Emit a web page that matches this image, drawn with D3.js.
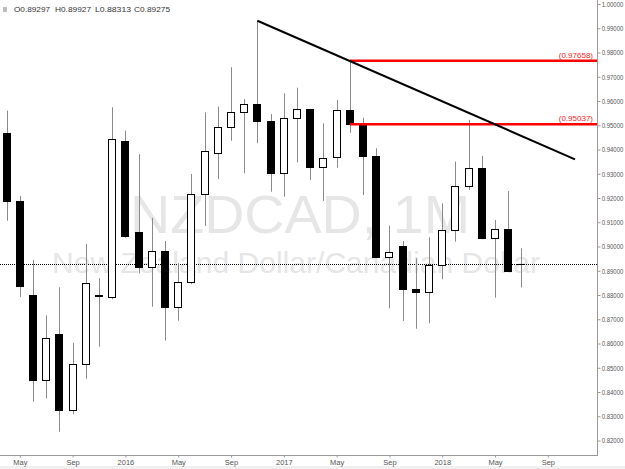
<!DOCTYPE html>
<html>
<head>
<meta charset="utf-8">
<script src="https://cdn.jsdelivr.net/npm/d3@7"></script>
<style>
html,body{margin:0;padding:0;background:#fff;}
svg{display:block;font-family:"Liberation Sans",Arial,sans-serif;}
</style>
</head>
<body>
<svg id="c" width="625" height="469"></svg>
<script>
// ---- data ----
const months = ["Apr 2015","May 2015","Jun 2015","Jul 2015","Aug 2015","Sep 2015","Oct 2015","Nov 2015","Dec 2015",
  "Jan 2016","Feb 2016","Mar 2016","Apr 2016","May 2016","Jun 2016","Jul 2016","Aug 2016","Sep 2016","Oct 2016","Nov 2016","Dec 2016",
  "Jan 2017","Feb 2017","Mar 2017","Apr 2017","May 2017","Jun 2017","Jul 2017","Aug 2017","Sep 2017","Oct 2017","Nov 2017","Dec 2017",
  "Jan 2018","Feb 2018","Mar 2018","Apr 2018","May 2018","Jun 2018","Jul 2018"];
const openV  = [0.9469,0.9189,0.8800,0.8449,0.8639,0.8326,0.8514,0.8799,0.8793,0.9435,0.9059,0.8917,0.8980,0.8751,0.8852,0.9215,0.9384,0.9494,0.9556,0.9588,0.9518,0.9302,0.9529,0.9566,0.9329,0.9370,0.9563,0.9504,0.9374,0.8958,0.9003,0.8823,0.8811,0.8924,0.9068,0.9249,0.9324,0.9034,0.9071,0.89297];
const highV  = [0.9560,0.9208,0.8944,0.8716,0.8832,0.8603,0.9010,0.8869,0.9574,0.9478,0.9381,0.9118,0.9023,0.8931,0.9299,0.9553,0.9577,0.9739,0.9608,0.9931,0.9546,0.9632,0.9655,0.9568,0.9508,0.9604,0.97658,0.9531,0.9405,0.9086,0.9023,0.8951,0.9038,0.9178,0.9350,0.9522,0.9374,0.9109,0.9229,0.89927];
const lowV   = [0.9106,0.8791,0.8360,0.8374,0.8236,0.8308,0.8455,0.8587,0.8782,0.9036,0.8889,0.8752,0.8612,0.8694,0.8845,0.9085,0.9278,0.9436,0.9302,0.9426,0.9226,0.9205,0.9347,0.9274,0.9188,0.9325,0.9469,0.9212,0.8951,0.8745,0.8693,0.8661,0.8683,0.8865,0.9020,0.9233,0.9030,0.8789,0.8898,0.88313];
const closeV = [0.9189,0.8837,0.8449,0.8621,0.8326,0.8514,0.8848,0.8795,0.9442,0.9045,0.8917,0.8980,0.8749,0.8852,0.9215,0.9394,0.9494,0.9556,0.9586,0.9518,0.9302,0.9529,0.9566,0.9329,0.9364,0.9563,0.95037,0.9374,0.8958,0.8976,0.8823,0.8811,0.8924,0.9068,0.9249,0.9324,0.9034,0.9071,0.8900,0.89275];
const xTickIdx = [1,5,9,13,17,21,25,29,33,37,41];
const xTickLabels = ["May","Sep","2016","May","Sep","2017","May","Sep","2018","May","Sep"];
const yTicks = [0.82,0.83,0.84,0.85,0.86,0.87,0.88,0.89,0.90,0.91,0.92,0.93,0.94,0.95,0.96,0.97,0.98,0.99,1.00];
const levels = [0.97658, 0.95037];
const levelStartIdx = 26;
const trendIdx = [19, 43.06];
const trendVal = [0.9931, 0.93596];
const header = ["O0.89297","H0.89927","L0.88313","C0.89275"];
const symbolText = "NZDCAD, 1M";
const descText = "New Zealand Dollar/Canadian Dollar";

// ---- layout ----
const svg = d3.select("#c");
const plotR = 598, plotB = 456;
const x = d3.scaleLinear().domain([-0.5, 44.8]).range([0, plotR]);
const y = d3.scaleLinear().domain([0.82, 1.0]).range([440.5, 4]);

// bottom grey band
svg.append("rect").attr("x",0).attr("y",466).attr("width",625).attr("height",3).attr("fill","#f0f0f0");

// watermark
svg.append("text").attr("x",130).attr("y",233).attr("font-size",53).attr("fill","#e6e6e6")
  .attr("textLength",340).attr("lengthAdjust","spacingAndGlyphs").text(symbolText);
svg.append("text").attr("x",52).attr("y",273).attr("font-size",29).attr("fill","#e6e6e6")
  .attr("textLength",488).attr("lengthAdjust","spacingAndGlyphs").text(descText);

// header
const hx = [14,55,95,134];
svg.append("rect").attr("x",3).attr("y",7).attr("width",4).attr("height",5).attr("fill","#bdbdbd");
svg.selectAll("text.hdr").data(header).enter().append("text").attr("class","hdr")
  .attr("x",(d,i)=>hx[i]).attr("y",12).attr("font-size",8).attr("fill","#333")
  .attr("textLength",36).attr("lengthAdjust","spacingAndGlyphs").text(d=>d);

// current price dotted line
const cy = Math.round(y(closeV[closeV.length-1]))+0.5;
svg.append("line").attr("x1",0).attr("x2",plotR).attr("y1",cy).attr("y2",cy)
  .attr("stroke","#000").attr("stroke-width",1).attr("stroke-dasharray","1,1");

// candles
const data = months.map((m,i)=>({i, o:openV[i], h:highV[i], l:lowV[i], c:closeV[i]}));
const g = svg.append("g");
const cxp = d => Math.round(x(d.i));
g.selectAll("line.wick").data(data).enter().append("line").attr("class","wick")
  .attr("x1",d=>cxp(d)+0.5).attr("x2",d=>cxp(d)+0.5)
  .attr("y1",d=>y(d.h)).attr("y2",d=>y(d.l))
  .attr("stroke","#8a8a8a").attr("stroke-width",1);
g.selectAll("rect.body").data(data).enter().append("rect").attr("class","body")
  .attr("x",d=>cxp(d)-3.5).attr("width",7)
  .attr("y",d=>Math.round(y(Math.max(d.o,d.c)))+0.5)
  .attr("height",d=>Math.max(0.01, Math.round(y(Math.min(d.o,d.c))) - Math.round(y(Math.max(d.o,d.c)))))
  .attr("fill",d=>d.c>=d.o?"#fff":"#000")
  .attr("stroke","#000").attr("stroke-width",1);

// level lines
levels.forEach(v=>{
  svg.append("line").attr("x1",x(levelStartIdx)).attr("x2",plotR).attr("y1",y(v)).attr("y2",y(v))
    .attr("stroke","#ff0000").attr("stroke-width",2.5);
  svg.append("text").attr("x",593).attr("y",y(v)-3).attr("text-anchor","end")
    .attr("font-size",8).attr("fill","#ff2020").text("("+d3.format(".5f")(v)+")");
});

// trendline
svg.append("line").attr("x1",x(trendIdx[0])).attr("y1",y(trendVal[0]))
  .attr("x2",x(trendIdx[1])).attr("y2",y(trendVal[1]))
  .attr("stroke","#000").attr("stroke-width",2);

// axes
const yAxis = d3.axisRight(y).tickValues(yTicks).tickFormat(d3.format(".5f")).tickSize(3).tickPadding(1);
const ya = svg.append("g").attr("transform",`translate(${plotR-0.5},0)`).call(yAxis);
ya.select(".domain").attr("d",`M0,0V${plotB}`).attr("stroke","#9a9a9a");
ya.selectAll(".tick line").attr("stroke","#9a9a9a");
ya.selectAll(".tick text").attr("font-size",7.5).attr("fill","#555").attr("font-family","Liberation Sans, Arial, sans-serif")
  .attr("x",4.2/0.8).attr("transform","scale(0.8,1)");

const xAxis = d3.axisBottom(x).tickValues(xTickIdx).tickFormat((d,i)=>xTickLabels[i]).tickSize(2).tickPadding(2);
const xa = svg.append("g").attr("transform",`translate(0,${plotB-0.5})`).call(xAxis);
xa.select(".domain").attr("d",`M0,0H${plotR}`).attr("stroke","#9a9a9a");
xa.selectAll(".tick line").attr("stroke","#9a9a9a");
xa.selectAll(".tick text").attr("font-size",7.5).attr("fill","#555").attr("font-family","Liberation Sans, Arial, sans-serif");
</script>
</body>
</html>
